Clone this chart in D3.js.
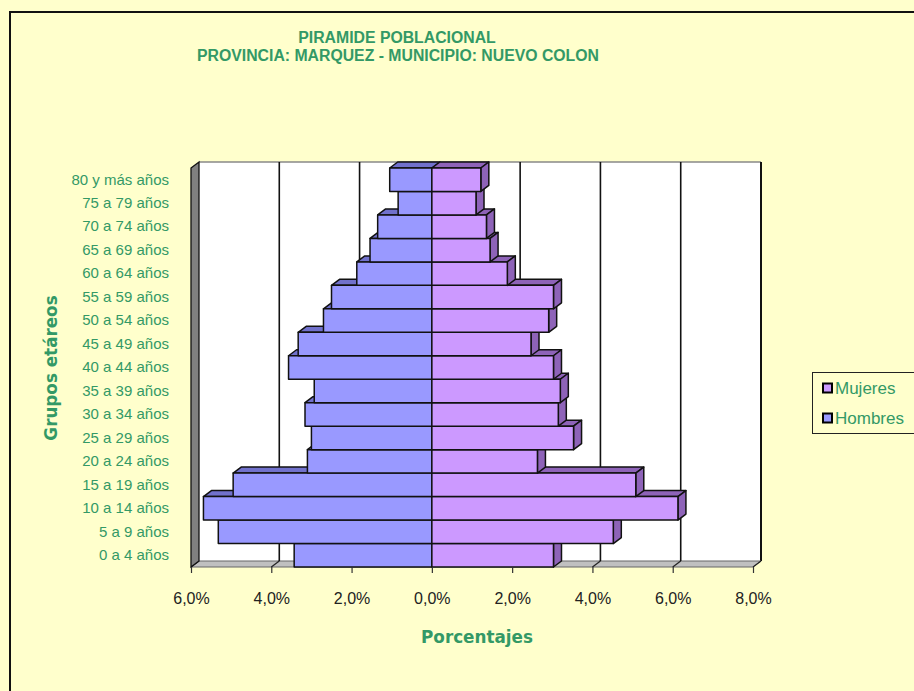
<!DOCTYPE html>
<html>
<head>
<meta charset="utf-8">
<script src="https://cdn.jsdelivr.net/npm/d3@7"></script>
<style>
  html, body { margin: 0; padding: 0; background: #FFFFCC; }
  svg { display: block; }
</style>
</head>
<body>
<svg id="chart" width="914" height="691"></svg>
<script>
// ---- data ----
const titleLines = ["PIRAMIDE POBLACIONAL", "PROVINCIA: MARQUEZ - MUNICIPIO: NUEVO COLON"];
const ageGroups = ["0 a 4 años", "5 a 9 años", "10 a 14 años", "15 a 19 años", "20 a 24 años",
  "25 a 29 años", "30 a 34 años", "35 a 39 años", "40 a 44 años", "45 a 49 años",
  "50 a 54 años", "55 a 59 años", "60 a 64 años", "65 a 69 años", "70 a 74 años",
  "75 a 79 años", "80 y más años"];
const hombres = [3.43, 5.32, 5.69, 4.95, 3.10, 3.00, 3.16, 2.93, 3.57, 3.33, 2.70, 2.50, 1.87, 1.54, 1.35, 0.84, 1.05];
const mujeres = [3.03, 4.52, 6.13, 5.08, 2.63, 3.53, 3.15, 3.20, 3.03, 2.47, 2.91, 3.03, 1.88, 1.45, 1.36, 1.10, 1.22];
const tickValues = [-6, -4, -2, 0, 2, 4, 6, 8];
const tickLabels = ["6,0%", "4,0%", "2,0%", "0,0%", "2,0%", "4,0%", "6,0%", "8,0%"];
const seriesNames = ["Mujeres", "Hombres"];
const xTitle = "Porcentajes";
const yTitle = "Grupos etáreos";

// ---- styles ----
const green = "#339966";
const colH = "#9999FF", colHdark = "#7171CC";
const colM = "#CC99FF", colMdark = "#8E63B8";
const sans = "'Liberation Sans', Arial, sans-serif";
const boldSans = "'DejaVu Sans', Verdana, sans-serif";

const svg = d3.select("#chart");
svg.append("rect").attr("x", 0).attr("y", 0).attr("width", 914).attr("height", 691).attr("fill", "#FFFFCC");
// outer chart border
svg.append("path").attr("d", "M10,700 L10,12 L930,12").attr("fill", "none").attr("stroke", "#111").attr("stroke-width", 2);

// geometry
const pL = 191, pR = 753, pT = 168, pB = 567;
const dx = 8, dy = 6;
const x = d3.scaleLinear().domain([-6, 8]).range([pL, pR]);
const y = d3.scaleBand().domain(ageGroups.slice().reverse()).range([pT, pB]).padding(0);

// back wall
svg.append("rect").attr("x", pL + dx).attr("y", pT - dy).attr("width", pR - pL).attr("height", pB - pT)
  .attr("fill", "#fff");
svg.append("line").attr("x1", pL + dx).attr("x2", pR + dx).attr("y1", pT - dy).attr("y2", pT - dy)
  .attr("stroke", "#888").attr("stroke-width", 1.5);
svg.append("line").attr("x1", pR + dx).attr("x2", pR + dx).attr("y1", pT - dy).attr("y2", pB - dy)
  .attr("stroke", "#111").attr("stroke-width", 2);

// floor
svg.append("path")
  .attr("d", `M${pL},${pB} L${pL + dx},${pB - dy} L${pR + dx},${pB - dy} L${pR},${pB} Z`)
  .attr("fill", "#C0C0C0").attr("stroke", "#666").attr("stroke-width", 1);

// gridlines on back wall + floor
const grid = svg.append("g");
tickValues.filter(v => v > -6 && v < 8).forEach(v => {
  grid.append("line").attr("x1", x(v) + dx).attr("x2", x(v) + dx).attr("y1", pT - dy).attr("y2", pB - dy)
    .attr("stroke", "#111").attr("stroke-width", 1.6);
});
tickValues.forEach(v => {
  grid.append("line").attr("x1", x(v) + dx).attr("x2", x(v)).attr("y1", pB - dy).attr("y2", pB)
    .attr("stroke", "#222").attr("stroke-width", 1.2);
});

// left wall
svg.append("path")
  .attr("d", `M${pL},${pT} L${pL + dx},${pT - dy} L${pL + dx},${pB - dy} L${pL},${pB} Z`)
  .attr("fill", "#808080").attr("stroke", "#111").attr("stroke-width", 1.3);

// bars (draw from bottom row up so upper fronts cover lower tops)
const bars = svg.append("g").attr("stroke", "#111").attr("stroke-width", 1.5).attr("stroke-linejoin", "round");
const bh = y.bandwidth();
for (let i = 0; i < ageGroups.length; i++) {
  const yy = y(ageGroups[i]);
  const x0 = x(0);
  const xh = x(-hombres[i]);
  const xm = x(mujeres[i]);
  bars.append("path").attr("d", `M${xh},${yy} L${xh + dx},${yy - dy} L${x0 + dx},${yy - dy} L${x0},${yy} Z`).attr("fill", colHdark);
  bars.append("path").attr("d", `M${x0},${yy} L${x0 + dx},${yy - dy} L${xm + dx},${yy - dy} L${xm},${yy} Z`).attr("fill", colMdark);
  bars.append("path").attr("d", `M${xm},${yy} L${xm + dx},${yy - dy} L${xm + dx},${yy + bh - dy} L${xm},${yy + bh} Z`).attr("fill", colMdark);
  bars.append("rect").attr("x", xh).attr("y", yy).attr("width", x0 - xh).attr("height", bh).attr("fill", colH);
  bars.append("rect").attr("x", x0).attr("y", yy).attr("width", xm - x0).attr("height", bh).attr("fill", colM);
}

// x axis
const xAxis = d3.axisBottom(x).tickValues(tickValues).tickFormat((d, i) => tickLabels[i]).tickSize(6).tickPadding(20);
const gx = svg.append("g").attr("transform", `translate(0,${pB})`).call(xAxis);
gx.select(".domain").remove();
gx.selectAll(".tick line").attr("stroke", "#333").attr("stroke-width", 1.2);
gx.selectAll(".tick text").attr("fill", "#222").style("font-family", sans).style("font-size", "16px");

// y axis
const yAxis = d3.axisLeft(y).tickSize(0).tickPadding(22);
const gy = svg.append("g").attr("transform", `translate(${pL},0)`).call(yAxis);
gy.select(".domain").remove();
gy.selectAll(".tick text").attr("fill", green).style("font-family", sans).style("font-size", "15px");

// titles
svg.append("text").attr("x", 397).attr("y", 43).attr("text-anchor", "middle").attr("fill", green)
  .style("font-family", sans).style("font-weight", "bold").style("font-size", "15.8px").text(titleLines[0]);
svg.append("text").attr("x", 398).attr("y", 61).attr("text-anchor", "middle").attr("fill", green)
  .style("font-family", sans).style("font-weight", "bold").style("font-size", "15.8px").text(titleLines[1]);

svg.append("text").attr("x", 477).attr("y", 643).attr("text-anchor", "middle").attr("fill", green)
  .style("font-family", boldSans).style("font-weight", "bold").style("font-size", "16.8px").text(xTitle);
svg.append("text").attr("transform", "translate(57,368) rotate(-90)").attr("text-anchor", "middle").attr("fill", green)
  .style("font-family", boldSans).style("font-weight", "bold").style("font-size", "16.8px").text(yTitle);

// legend
const lg = svg.append("g");
lg.append("rect").attr("x", 812.5).attr("y", 372.5).attr("width", 200).attr("height", 61)
  .attr("fill", "#FFFFCC").attr("stroke", "#222").attr("stroke-width", 1);
const legendColors = [colM, colH];
seriesNames.forEach((name, i) => {
  const cy = 388 + i * 30;
  lg.append("rect").attr("x", 823).attr("y", cy - 4.5).attr("width", 9).attr("height", 9)
    .attr("fill", legendColors[i]).attr("stroke", "#000").attr("stroke-width", 2);
  lg.append("text").attr("x", 835).attr("y", cy + 5.5).attr("fill", green)
    .style("font-family", sans).style("font-size", "17px").text(name);
});
</script>
</body>
</html>
